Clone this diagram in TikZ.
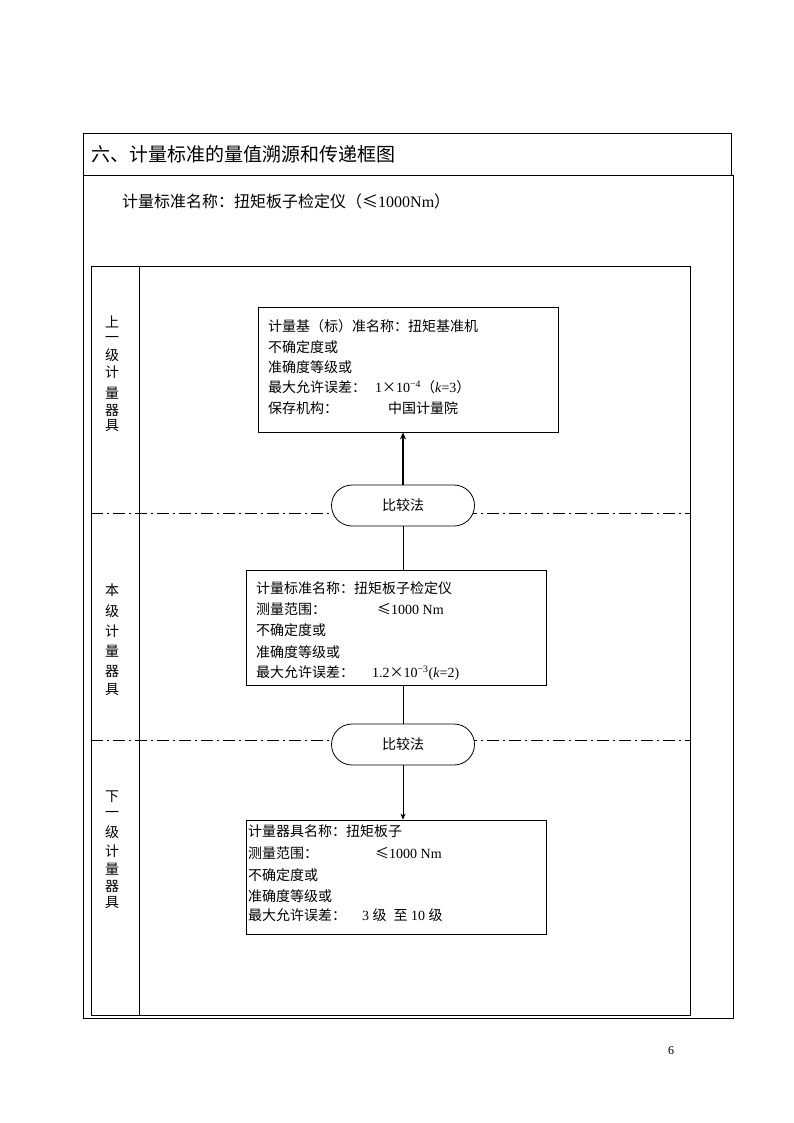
\documentclass[tikz,border=0pt]{standalone}
\usepackage{fontspec}
\setmainfont{Liberation Serif}
\newfontfamily\cjk{Noto Sans CJK SC}
\usetikzlibrary{shapes.misc,arrows.meta}
\begin{document}
\begin{tikzpicture}[x=1pt,y=-1pt,
  frame/.style={line width=0.8pt},
  box/.style={draw,line width=0.8pt,rectangle,inner sep=0pt},
  oval/.style={draw,line width=0.8pt,rounded rectangle,fill=white,minimum width=143pt,minimum height=41pt,inner sep=0pt,font=\cjk\fontsize{14}{17}\selectfont},
  lbl/.style={anchor=base west,inner sep=0pt,font=\cjk\fontsize{14}{17}\selectfont},
  num/.style={anchor=base west,inner sep=0pt,font=\fontsize{14}{17}\selectfont},
  vch/.style={inner sep=0pt,font=\cjk\fontsize{14}{17}\selectfont},
  dashdot/.style={line width=0.7pt,dash pattern=on 12pt off 4pt on 2pt off 4pt},
  conn/.style={line width=0.8pt},
  arr/.style={line width=0.8pt,-{Stealth[length=6pt,width=5pt]}},
  thickarr/.style={line width=2pt,-{Stealth[length=7pt,width=6pt]}}
]
\useasboundingbox (0,0) rectangle (794,1123);
% outer table
\draw[frame] (83,133) rectangle (731,175);
\draw[frame] (83,175) rectangle (733,1018);
\node[lbl,font=\cjk\fontsize{19}{22}\selectfont] (title) at (91,162) {六、计量标准的量值溯源和传递框图};
\node[lbl,font=\cjk\fontsize{16}{19}\selectfont] (sub) at (122,208) {计量标准名称：扭矩板子检定仪（{\cjk ≤}{\rmfamily 1000Nm}）};
% inner frame
\draw[frame] (91,266) rectangle (690,1015);
\draw[frame] (139,266) -- (139,1015);
% dash-dot separators
\coordinate (dl1) at (91,513); \coordinate (dr1) at (690,513);
\coordinate (dl2) at (91,740); \coordinate (dr2) at (690,740);
\draw[dashdot] (dl1) -- (dr1);
\draw[dashdot] (dl2) -- (dr2);
% vertical labels
\foreach \c/\y [count=\i] in {上/322,一/339,级/355,计/372,量/393,器/410,具/426}
  \node[vch] (u\i) at (112,\y) {\c};
\foreach \c/\y [count=\i] in {本/590,级/611,计/631,量/651,器/671,具/690}
  \node[vch] (m\i) at (112,\y) {\c};
\foreach \c/\y [count=\i] in {下/797,一/814,级/832,计/851,量/869,器/886,具/903}
  \node[vch] (d\i) at (112,\y) {\c};
% boxes
\node[box,minimum width=300pt,minimum height=125pt] (b1) at (408,369.5) {};
\node[box,minimum width=300pt,minimum height=115pt] (b2) at (396,627.5) {};
\node[box,minimum width=300pt,minimum height=114pt] (b3) at (396,877) {};
% box 1 text
\node[lbl] (b1l1) at (268,331.5) {计量基（标）准名称：扭矩基准机};
\node[lbl] (b1l2) at (268,352) {不确定度或};
\node[lbl] (b1l3) at (268,372.5) {准确度等级或};
\node[lbl] (b1l4) at (268,392.5) {最大允许误差：};
\node[num] (b1v4) at (375,392.5) {1{\cjk ×}10\textsuperscript{−4}{\cjk （}\textit{k}=3{\cjk ）}};
\node[lbl] (b1l5) at (268,413.5) {保存机构：};
\node[lbl] (b1v5) at (388,413.5) {中国计量院};
% box 2 text
\node[lbl] (b2l1) at (256,593.5) {计量标准名称：扭矩板子检定仪};
\node[lbl] (b2l2) at (256,614.5) {测量范围：};
\node[num] (b2v2) at (377,614.5) {{\cjk ≤}1000 Nm};
\node[lbl] (b2l3) at (256,635.5) {不确定度或};
\node[lbl] (b2l4) at (256,657) {准确度等级或};
\node[lbl] (b2l5) at (256,677.5) {最大允许误差：};
\node[num] (b2v5) at (372,677.5) {1.2{\cjk ×}10\textsuperscript{−3}(\textit{k}=2)};
% box 3 text
\node[lbl] (b3l1) at (248,836.5) {计量器具名称：扭矩板子};
\node[lbl] (b3l2) at (248,858.5) {测量范围：};
\node[num] (b3v2) at (375,858.5) {{\cjk ≤}1000 Nm};
\node[lbl] (b3l3) at (248,880.5) {不确定度或};
\node[lbl] (b3l4) at (248,901.5) {准确度等级或};
\node[lbl] (b3l5) at (248,920.5) {最大允许误差：};
\node[num] (b3v5) at (362,920.5) {3 {\cjk 级} \ {\cjk 至} 10 {\cjk 级}};
% ovals
\node[oval] (o1) at (403,505.5) {比较法};
\node[oval] (o2) at (403,744.5) {比较法};
% connectors
\draw[thickarr] (o1.north) -- (o1.north |- b1.south);
\draw[conn] (o1.south) -- (o1.south |- b2.north);
\draw[conn] (o2.north |- b2.south) -- (o2.north);
\draw[arr] (o2.south) -- (o2.south |- b3.north);
% page number
\node[num,font=\fontsize{12}{14}\selectfont] (pg) at (668,1054) {6};
\end{tikzpicture}
\end{document}
